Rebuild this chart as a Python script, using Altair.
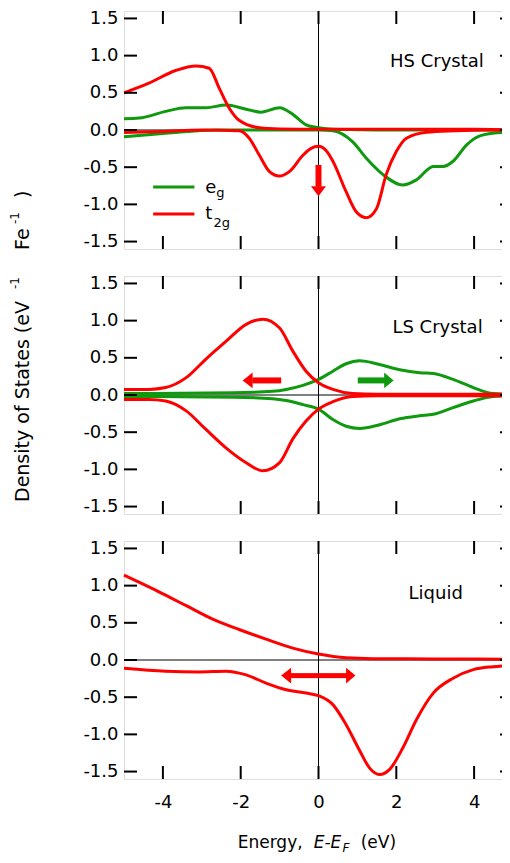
import altair as alt
import pandas as pd

FONT = "DejaVu Sans"
GREEN = "#0e990e"
RED = "#ff0000"

# ---------------- data ----------------
# HS crystal
hs_eg_up_x = [-5, -4.61, -3.93, -3.41, -2.89, -2.38, -1.86, -1.48, -1.0, -0.66, -0.32, 0, 0.37, 1, 2, 3, 4, 5]
hs_eg_up_y = [0.15, 0.16, 0.25, 0.30, 0.30, 0.335, 0.28, 0.24, 0.30, 0.21, 0.07, 0.03, 0.01, 0.005, 0.0, 0.0, 0.0, 0.0]
hs_eg_dn_x = [-5, -3.93, -2.64, -1, 0, 0.37, 0.88, 1.23, 1.66, 2.17, 2.52, 2.95, 3.2, 3.46, 3.81, 4.15, 4.67, 5]
hs_eg_dn_y = [-0.09, -0.045, 0.0, 0.0, 0.0, -0.01, -0.16, -0.38, -0.60, -0.74, -0.67, -0.49, -0.49, -0.42, -0.20, -0.08, -0.035, -0.03]
hs_t2g_up_x = [-5, -4.36, -3.67, -3.15, -2.81, -2.55, -2.29, -2.04, -1.52, -1.0, 0, 1, 2, 3, 4, 5]
hs_t2g_up_y = [0.50, 0.63, 0.80, 0.86, 0.83, 0.56, 0.29, 0.13, 0.03, 0.015, 0.01, 0.01, 0.01, 0.01, 0.01, 0.0]
hs_t2g_dn_x = [-5, -4, -3, -2.04, -1.78, -1.52, -1.26, -1.0, -0.75, -0.40, -0.2, 0, 0.2, 0.37, 0.71, 0.97, 1.23, 1.49, 1.74, 2.0, 2.26, 2.78, 3.5, 4.2, 5]
hs_t2g_dn_y = [-0.035, -0.02, 0.0, -0.01, -0.11, -0.34, -0.56, -0.62, -0.56, -0.34, -0.25, -0.22, -0.28, -0.42, -0.83, -1.10, -1.18, -1.06, -0.60, -0.29, -0.11, -0.03, -0.01, 0.0, 0.0]

# LS crystal
ls_eg_x = [-5, -2.2, -1.18, -0.83, -0.40, 0, 0.37, 0.71, 1.06, 1.57, 2.09, 2.6, 2.95, 3.46, 3.98, 4.49, 5]
ls_eg_up_y = [0.02, 0.03, 0.05, 0.075, 0.13, 0.21, 0.32, 0.42, 0.46, 0.41, 0.34, 0.30, 0.29, 0.21, 0.10, 0.02, 0.01]
ls_eg_dn_y = [-0.02, -0.03, -0.05, -0.075, -0.13, -0.19, -0.33, -0.42, -0.45, -0.40, -0.32, -0.28, -0.26, -0.17, -0.08, -0.02, -0.01]
ls_t2g_x = [-5, -4.36, -3.93, -3.41, -2.9, -2.38, -1.86, -1.43, -1.0, -0.66, -0.32, 0, 0.37, 0.88, 1.5, 3, 5]
ls_t2g_up_y = [0.075, 0.075, 0.10, 0.23, 0.48, 0.72, 0.95, 1.02, 0.90, 0.59, 0.32, 0.165, 0.076, 0.02, 0.01, 0.01, 0.01]
ls_t2g_dn_y = [-0.06, -0.06, -0.08, -0.21, -0.46, -0.71, -0.91, -1.02, -0.91, -0.59, -0.35, -0.19, -0.09, -0.02, -0.01, -0.01, -0.01]

# Liquid
lq_up_x = [-5, -4, -3.4, -2.72, -2.04, -1.35, -0.66, 0, 0.71, 1.4, 3, 5]
lq_up_y = [1.14, 0.89, 0.73, 0.55, 0.41, 0.28, 0.16, 0.08, 0.03, 0.018, 0.015, 0.01]
lq_dn_x = [-5, -3.93, -3.07, -2.38, -1.86, -1.35, -0.83, -0.32, 0, 0.37, 0.71, 1.06, 1.31, 1.57, 1.83, 2.17, 2.52, 2.95, 3.46, 3.98, 4.49, 5]
lq_dn_y = [-0.11, -0.15, -0.16, -0.15, -0.20, -0.31, -0.40, -0.445, -0.48, -0.60, -0.87, -1.22, -1.45, -1.54, -1.47, -1.18, -0.80, -0.445, -0.245, -0.13, -0.09, -0.07]

x_ticks = [-4, -2, 0, 2, 4]
y_ticks = [-1.5, -1.0, -0.5, 0.0, 0.5, 1.0, 1.5]

panel_names = ["HS Crystal", "LS Crystal", "Liquid"]
panel_label_x = [4.25, 4.22, 3.71]
panel_label_y = [0.85, 0.835, 0.82]

# arrows: panel, colour, tail x, tail y, tip x, tip y
arrow_panel = ["HS Crystal", "LS Crystal", "LS Crystal", "Liquid", "Liquid"]
arrow_color = [RED, RED, GREEN, RED, RED]
arrow_dir = ["down", "left", "right", "left", "right"]
arrow_tail_x = [0.0, -0.96, 1.01, 0.0, 0.0]
arrow_tail_y = [-0.47, 0.196, 0.196, -0.21, -0.21]
arrow_shaft_end_x = [0.0, -1.70, 1.74, -0.80, 0.80]
arrow_shaft_end_y = [-0.76, 0.196, 0.196, -0.21, -0.21]
arrow_tip_x = [0.0, -1.95, 1.93, -0.96, 0.95]
arrow_tip_y = [-0.89, 0.196, 0.196, -0.21, -0.21]
arrow_width = [6, 6, 6, 5, 5]

# y-axis title pieces (text, font size, x offset, y offset relative to middle panel)
ytitle_text = ["Density of States (eV", "-1", "Fe", "-1", ")"]
ytitle_size = [19, 12, 19, 12, 19]
ytitle_x = [-101, -109, -101, -109, -101]
ytitle_y = [226, 13, -26, -52, -78]

curves = [
    ("HS Crystal", "eg", "up", hs_eg_up_x, hs_eg_up_y),
    ("HS Crystal", "eg", "dn", hs_eg_dn_x, hs_eg_dn_y),
    ("HS Crystal", "t2g", "up", hs_t2g_up_x, hs_t2g_up_y),
    ("HS Crystal", "t2g", "dn", hs_t2g_dn_x, hs_t2g_dn_y),
    ("LS Crystal", "eg", "up", ls_eg_x, ls_eg_up_y),
    ("LS Crystal", "eg", "dn", ls_eg_x, ls_eg_dn_y),
    ("LS Crystal", "t2g", "up", ls_t2g_x, ls_t2g_up_y),
    ("LS Crystal", "t2g", "dn", ls_t2g_x, ls_t2g_dn_y),
    ("Liquid", "t2g", "up", lq_up_x, lq_up_y),
    ("Liquid", "t2g", "dn", lq_dn_x, lq_dn_y),
]
rows = []
for panel, orb, br, xs, ys in curves:
    for xv, yv in zip(xs, ys):
        rows.append({"panel": panel, "orbital": orb, "curve": orb + br, "x": xv, "y": yv})
df = pd.DataFrame(rows)

arrows = pd.DataFrame({
    "panel": arrow_panel, "color": arrow_color, "dir": arrow_dir,
    "x": arrow_tail_x, "y": arrow_tail_y,
    "x2": arrow_shaft_end_x, "y2": arrow_shaft_end_y,
    "tx": arrow_tip_x, "ty": arrow_tip_y, "w": arrow_width,
})

W, H = 389, 238
xs_ = alt.Scale(domain=[-5, 5], nice=False, zero=False)
ys_ = alt.Scale(domain=[-1.6, 1.6], nice=False, zero=False)

y_axis = alt.Axis(values=y_ticks, ticks=False, domain=False, grid=False, title=None,
                  labelFont=FONT, labelFontSize=18, labelColor="black", labelPadding=6,
                  labelExpr="(datum.value < 0 ? '-' : '') + format(abs(datum.value), '.1f')")
x_axis_bottom = alt.Axis(values=x_ticks, ticks=False, domain=False, grid=False, title=None,
                         labelFont=FONT, labelFontSize=18, labelColor="black", labelPadding=14,
                         labelExpr="(datum.value < 0 ? '-' : '') + abs(datum.value)")

HEADS = {
    "down": ("M-1,-1.33L1,-1.33L0,0Z", 225),
    "left": ("M0,0L1.27,-1L1.27,1Z", 246),
    "right": ("M0,0L-1.2,-1L-1.2,1Z", 246),
}


def make_panel(name, bottom):
    xa = x_axis_bottom if bottom else None

    def X(f="x"):
        return alt.X(f, type="quantitative", scale=xs_, axis=xa)

    def Y(f="y"):
        return alt.Y(f, type="quantitative", scale=ys_, axis=y_axis)

    layers = []
    layers.append(alt.Chart(pd.DataFrame({"y": [0.0]})).mark_rule(color="black", strokeWidth=1)
                  .encode(y=Y()))
    layers.append(alt.Chart(pd.DataFrame({"x": [0.0]})).mark_rule(color="black", strokeWidth=1)
                  .encode(x=X()))
    d = df[df.panel == name]
    layers.append(alt.Chart(d).mark_line(strokeWidth=3, interpolate="monotone").encode(
        x=X(), y=Y(),
        color=alt.Color("orbital:N", scale=alt.Scale(domain=["eg", "t2g"], range=[GREEN, RED]), legend=None),
        detail="curve:N"))
    # inward ticks on all four sides
    yt = pd.DataFrame({"y": y_ticks})
    xt = pd.DataFrame({"x": x_ticks})
    layers.append(alt.Chart(yt).mark_rule(color="black", strokeWidth=2)
                  .encode(y=Y(), x=alt.value(0), x2=alt.value(13)))
    layers.append(alt.Chart(yt).mark_rule(color="black", strokeWidth=2)
                  .encode(y=Y(), x=alt.value(W - 13), x2=alt.value(W)))
    layers.append(alt.Chart(xt).mark_rule(color="black", strokeWidth=2)
                  .encode(x=X(), y=alt.value(0), y2=alt.value(13)))
    layers.append(alt.Chart(xt).mark_rule(color="black", strokeWidth=2)
                  .encode(x=X(), y=alt.value(H - 13), y2=alt.value(H)))
    # panel label
    i = panel_names.index(name)
    layers.append(alt.Chart(pd.DataFrame({"x": [panel_label_x[i]], "y": [panel_label_y[i]], "t": [name]}))
                  .mark_text(font=FONT, fontSize=18, align="right", baseline="alphabetic", color="black")
                  .encode(x=X(), y=Y(), text="t:N"))
    # arrows
    a = arrows[arrows.panel == name]
    for dcode in a["dir"].unique():
        aa = a[a["dir"] == dcode]
        layers.append(alt.Chart(aa).mark_rule(strokeCap="butt").encode(
            x=X(), y=Y(), x2="x2:Q", y2="y2:Q",
            color=alt.Color("color:N", scale=None), strokeWidth=alt.StrokeWidth("w:Q", scale=None)))
        path, size = HEADS[dcode]
        layers.append(alt.Chart(aa).mark_point(shape=path, size=size, filled=True, opacity=1, strokeWidth=0)
                      .encode(x=X("tx"), y=Y("ty"), color=alt.Color("color:N", scale=None)))
    if name == "HS Crystal":
        leg = pd.DataFrame({"x": [-4.25, -4.25], "x2": [-3.19, -3.19], "y": [-0.765, -1.13],
                            "orbital": ["eg", "t2g"]})
        layers.append(alt.Chart(leg).mark_rule(strokeWidth=3).encode(
            x=X(), x2="x2:Q", y=Y(),
            color=alt.Color("orbital:N", scale=alt.Scale(domain=["eg", "t2g"], range=[GREEN, RED]), legend=None)))
        big = pd.DataFrame({"x": [-2.91, -2.91], "y": [-0.85, -1.19], "t": ["e", "t"]})
        sub = pd.DataFrame({"x": [-2.63, -2.70], "y": [-0.905, -1.31], "t": ["g", "2g"]})
        layers.append(alt.Chart(big).mark_text(font=FONT, fontSize=18, align="left", baseline="alphabetic",
                                               color="black").encode(x=X(), y=Y(), text="t:N"))
        layers.append(alt.Chart(sub).mark_text(font=FONT, fontSize=13, align="left", baseline="alphabetic",
                                               color="black").encode(x=X(), y=Y(), text="t:N"))
    if name == "LS Crystal":
        for t, fs, px, py in zip(ytitle_text, ytitle_size, ytitle_x, ytitle_y):
            layers.append(alt.Chart(pd.DataFrame({"t": [t]}))
                          .mark_text(font=FONT, fontSize=fs, angle=270, align="left", baseline="middle",
                                     color="black")
                          .encode(text="t:N", x=alt.value(px), y=alt.value(py)))
    if name == "Liquid":
        pieces = [("Energy,", 113.7, 302, 17, "normal"), ("E-E", 189.7, 302, 17, "italic"),
                  ("F", 218.5, 307, 12, "italic"), ("(eV)", 236.7, 302, 17, "normal")]
        for t, px, py, fs, st in pieces:
            layers.append(alt.Chart(pd.DataFrame({"t": [t]}))
                          .mark_text(font=FONT, fontSize=fs, fontStyle=st, align="left", baseline="middle",
                                     color="black")
                          .encode(text="t:N", x=alt.value(px), y=alt.value(py)))
    return alt.layer(*layers).properties(width=W, height=H)


chart = alt.vconcat(
    make_panel("HS Crystal", False),
    make_panel("LS Crystal", False),
    make_panel("Liquid", True),
    spacing=27,
    bounds="flush",
).properties(
    padding={"left": 0, "top": 0, "right": -18, "bottom": 0}
).configure_view(
    stroke="black", strokeWidth=2
).configure(background="white")

chart.save("out.html", embed_options={"renderer": "svg", "actions": False})
